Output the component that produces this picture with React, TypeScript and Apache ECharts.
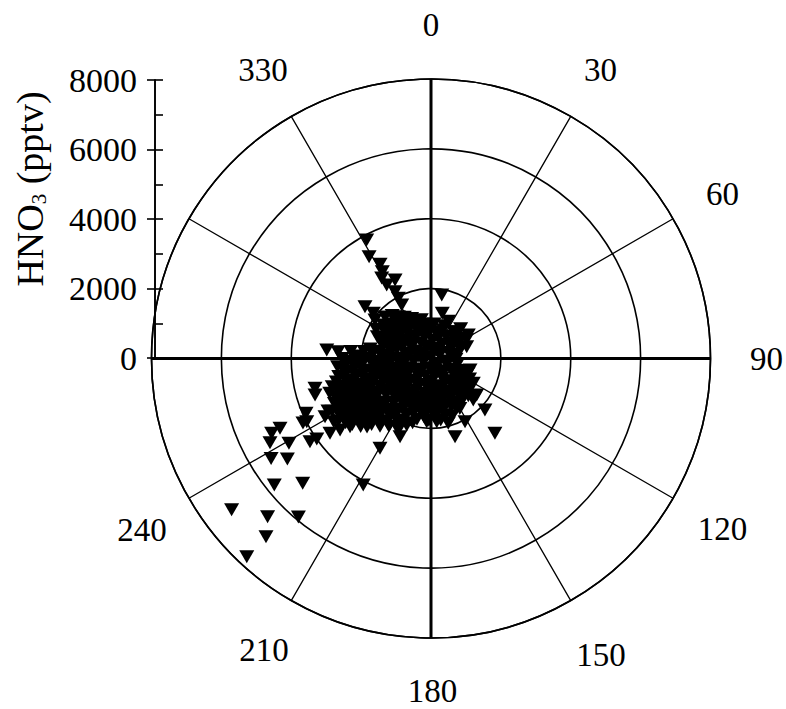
import React, { useEffect, useRef } from 'react';
import * as echarts from 'echarts';

// Angular tick labels (wind direction, degrees); 270 and 300 are not printed in the original
const angleTickValues = [0, 30, 60, 90, 120, 150, 180, 210, 240, 270, 300, 330];
const angleTickLabels = ['0', '30', '60', '90', '120', '150', '180', '210', '240', '', '', '330'];

// Wind direction (deg, clockwise from north) of each observation
const windDirDeg = [
  0,
  10, 70, 130, 190, 250, 310,
  40, 100, 160, 220, 280, 340,
  5, 38, 70, 100, 135, 165, 198, 230, 262, 295, 328,
  20, 52, 85, 118, 150, 182, 214, 246, 278, 311, 343,
  12, 35, 57, 80, 102, 125, 147, 170, 192, 215, 237, 260, 282, 305, 327, 350,
  0, 23, 46, 69, 113, 136, 159, 181, 204, 226, 249, 271, 294, 317, 340,
  5, 22, 40, 56, 72, 92, 110, 126, 142, 158, 174, 190, 206, 222, 238, 254, 270, 286, 302, 318, 334, 350,
  25, 45, 62,
  112, 124, 136, 148, 160, 172, 184, 196, 208, 220, 232, 244, 256, 268, 280, 292, 304, 316, 328, 340,
  118, 130, 142, 154, 166, 178, 190, 202, 214, 226, 238, 250, 262, 274, 286, 298, 310, 322, 334, 346,
  128, 140, 152, 162, 174, 185, 196, 207, 218, 229, 240, 251, 262, 273, 284, 295, 306, 317, 327,
  135, 146, 157, 168, 179, 190, 201, 212, 223, 234, 245, 256, 267, 278, 289, 300, 311, 322,
  150, 165, 176, 187, 198, 209, 220, 231, 242, 253, 264, 275, 292, 305, 318,
  160, 171, 182, 193, 204, 215, 226, 237, 248, 259, 270, 279, 298, 312,
  196, 204, 212, 220, 228, 236, 244, 252, 260, 268, 276,
  200, 208, 216, 224, 232, 240, 248, 256, 264, 272,
  206, 215, 222, 229, 236, 243, 250, 257, 264, 271,
  212, 219, 226, 233, 240, 247, 254, 261, 268, 275,
  217, 225, 231, 237, 243, 249, 255, 261, 267,
  222, 228, 234, 240, 246, 252, 258, 264, 270,
  223, 229, 235, 241, 247, 253, 259, 265,
  226, 232, 238, 244, 250, 256,
  230, 236, 242, 248, 254,
  233, 239, 245, 251,
  236, 242,
  237, 243,
  232.8, 225.9, 219.9, 222.8, 222.9, 231.1, 225.8, 208.2, 238.0, 235.0,
  245.2, 244.9, 242.4, 239.2, 235.5, 234.8, 246.3, 243.0, 252.5, 233.5,
  241.2, 231.8, 229.9, 139.5, 133.7, 162.9, 201.6, 209.6, 183.9, 174.8,
  165.1, 204.6, 215.0, 151.7, 134.5, 9.6, 14.0, 41.8, 57.8, 71.7,
  106.4, 120.4, 128.6, 152.7, 331.5, 328.7, 331.6, 330.7, 328.5, 328.9,
  335.4, 331.7, 331.5, 331.3, 308.1, 308.1, 304.5, 274.7, 274.2, 255.6,
  243.3,
];

// HNO3 mixing ratio (pptv) of each observation
const hno3Pptv = [
  40,
  250, 265, 255, 270, 245, 260,
  380, 395, 385, 390, 375, 392,
  520, 505, 530, 510, 525, 500, 520, 530, 505, 515, 525,
  640, 655, 630, 650, 645, 660, 635, 650, 640, 655, 645,
  780, 765, 790, 760, 775, 785, 770, 790, 760, 780, 775, 790, 765, 780, 770, 785,
  880, 895, 890, 875, 900, 885, 890, 880, 895, 885, 890, 900, 880, 890, 885,
  990, 1010, 1000, 1020, 890, 715, 1005, 995, 1015, 1000, 990, 1010, 1000, 1020, 995, 1005, 990, 1010, 1000, 1015, 995, 1005,
  1180, 1200, 1150,
  1140, 1150, 1135, 1155, 1145, 1140, 1150, 1145, 1135, 1155, 1140, 1150, 1145, 1135, 1155, 1140, 1150, 1145, 1140, 1150,
  1250, 1270, 1255, 1265, 1245, 1260, 1275, 1250, 1265, 1255, 1270, 1250, 1265, 1255, 1270, 1250, 1265, 1255, 1270, 1145,
  1395, 1410, 1400, 1390, 1405, 1415, 1395, 1400, 1410, 1395, 1405, 1400, 1410, 1395, 1405, 1400, 1410, 1395, 1405,
  1510, 1525, 1505, 1520, 1515, 1530, 1505, 1520, 1510, 1525, 1515, 1505, 1520, 1510, 1525, 1515, 1505, 1520,
  1650, 1665, 1655, 1670, 1660, 1650, 1665, 1655, 1670, 1660, 1650, 1665, 1655, 1670, 1660,
  1760, 1780, 1770, 1785, 1765, 1775, 1790, 1770, 1780, 1765, 1775, 1760, 1780, 1770,
  1910, 1925, 1915, 1920, 1930, 1910, 1925, 1915, 1920, 1910, 1925,
  2030, 2045, 2020, 2035, 2040, 2025, 2035, 2020, 2040, 2030,
  2170, 2185, 2165, 2180, 2175, 2190, 2170, 2180, 2175, 2165,
  2280, 2300, 2290, 2275, 2295, 2285, 2300, 2280, 2290, 2305,
  2425, 2440, 2430, 2445, 2420, 2435, 2430, 2440, 2425,
  2540, 2555, 2545, 2560, 2535, 2550, 2545, 2555, 2540,
  2685, 2700, 2690, 2695, 2680, 2700, 2690, 2685,
  2800, 2815, 2795, 2810, 2805, 2790,
  2940, 2955, 2945, 2950, 2940,
  3060, 3075, 3050, 3065,
  3200, 3210,
  3320, 3310,
  7165, 6513, 5917, 6951, 7746, 5764, 5123, 4106, 5397, 5019,
  4761, 5037, 5200, 4734, 4203, 4001, 3906, 3991, 3480, 3597,
  3461, 3312, 3030, 2817, 2135, 2341, 2407, 2956, 1813, 1816,
  1920, 2250, 2209, 2054, 1696, 1843, 1334, 1030, 1262, 1076,
  1164, 1403, 1674, 1603, 3859, 3411, 3066, 2848, 2701, 2456,
  2472, 2172, 1961, 1746, 2401, 2098, 1945, 2994, 2668, 3428,
  4102,
];

// per-label nudges [top, right, bottom, left] so each label sits centred on its direction
const angleLabelPadding: Record<number, number[]> = {
  0: [0, 0, 65, 0],
  30: [0, 0, 51.2, 10.75],
  60: [0, 0, 11.5, 28.6],
  90: [0, 0, 0, 34.5],
  120: [22.5, 0, 0, 20.35],
  150: [67.2, 0, 0, 3],
  180: [63, 0, 0, 3],
  210: [58.2, 0, 0, 0],
  240: [24.5, 17.85, 0, 0],
  270: [0, 0, 0, 0],
  300: [0, 0, 0, 0],
  330: [0, 1, 51.2, 0],
};

export default function App() {
  const ref = useRef<HTMLDivElement>(null);
  useEffect(() => {
    const chart = echarts.init(ref.current!, null, { renderer: 'svg' });
    const font = "'Liberation Serif', 'Times New Roman', serif";
    const data = windDirDeg.map((d, i) => [hno3Pptv[i], d]);
    const rich: Record<string, any> = {};
    angleTickValues.forEach((v) => {
      rich['a' + v] = {
        fontSize: 33, lineHeight: 33, fontFamily: font, color: '#000',
        padding: angleLabelPadding[v],
      };
    });
    chart.setOption({
      animation: false,
      backgroundColor: '#ffffff',
      polar: [
        { center: [431, 358.5], radius: 279.5 },
        { center: [431, 358.5], radius: 279.5 },
      ],
      angleAxis: [
        {
          polarIndex: 0, type: 'value', min: 0, max: 360, interval: 30,
          startAngle: 90, clockwise: true,
          axisLine: { show: true, lineStyle: { color: '#000', width: 1.6 } },
          axisTick: { show: false },
          splitLine: { show: true, lineStyle: { color: '#000', width: 1.3 } },
          axisLabel: {
            margin: 5, fontSize: 33, color: '#000', fontFamily: font,
            rich,
            formatter: (v: number) => {
              const idx = angleTickValues.indexOf(Math.round(v));
              const txt = idx >= 0 ? angleTickLabels[idx] : '';
              return txt ? `{a${angleTickValues[idx]}|${txt}}` : '';
            },
          },
        },
        {
          polarIndex: 1, type: 'value', min: 0, max: 360, interval: 90,
          startAngle: 90, clockwise: true,
          axisLine: { show: false }, axisTick: { show: false }, axisLabel: { show: false },
          splitLine: { show: true, lineStyle: { color: '#000', width: 3 } },
        },
      ],
      radiusAxis: [
        {
          polarIndex: 0, type: 'value', min: 0, max: 8000, interval: 2000,
          axisLine: { show: false }, axisTick: { show: false }, axisLabel: { show: false },
          splitLine: { show: true, lineStyle: { color: '#000', width: 1.6 } },
        },
        {
          polarIndex: 1, type: 'value', min: 0, max: 8000, interval: 2000,
          axisLine: { show: false }, axisTick: { show: false }, axisLabel: { show: false },
          splitLine: { show: false },
        },
      ],
      grid: { left: 155, top: 80, width: 100, height: 278, containLabel: false, outerBoundsMode: 'none' },
      xAxis: { type: 'value', show: false, min: 0, max: 1 },
      yAxis: [
        {
          type: 'value', min: 0, max: 8000, interval: 2000, position: 'left',
          axisLine: { show: true, lineStyle: { color: '#000', width: 1.6 } },
          axisTick: { show: true, inside: false, length: 8, lineStyle: { color: '#000', width: 1.6 } },
          axisLabel: { margin: 18, fontSize: 34, color: '#000', fontFamily: font, formatter: (v: number) => String(v) },
          splitLine: { show: false },
          name: '{a|HNO}{s|3}{a| (pptv)}',
          nameLocation: 'middle',
          nameRotate: 90,
          nameGap: 88,
          nameTextStyle: {
            color: '#000', fontFamily: font, fontSize: 38,
            padding: [0, 0, 0, 60],
            rich: {
              a: { fontSize: 38, lineHeight: 38, fontFamily: font, color: '#000', padding: [0, 0, 16, 0], verticalAlign: 'top' },
              s: { fontSize: 21, lineHeight: 21, fontFamily: font, color: '#000', verticalAlign: 'bottom' },
            },
          },
        },
        {
          type: 'value', min: 0, max: 8000, interval: 1000, position: 'left', offset: 0,
          axisLine: { show: true, lineStyle: { color: '#000', width: 1.6 } },
          axisTick: { show: true, inside: true, length: 8, lineStyle: { color: '#000', width: 1.6 } },
          axisLabel: { show: false },
          splitLine: { show: false },
        },
      ],
      series: [
        {
          type: 'scatter', coordinateSystem: 'polar', polarIndex: 0,
          data,
          symbol: 'triangle', symbolRotate: 180, symbolSize: [15, 13],
          itemStyle: { color: '#000', opacity: 1 },
        },
      ],
    });
    return () => chart.dispose();
  }, []);
  return <div ref={ref} style={{ position: 'absolute', left: 0, top: 0, width: 786, height: 709 }} />;
}
